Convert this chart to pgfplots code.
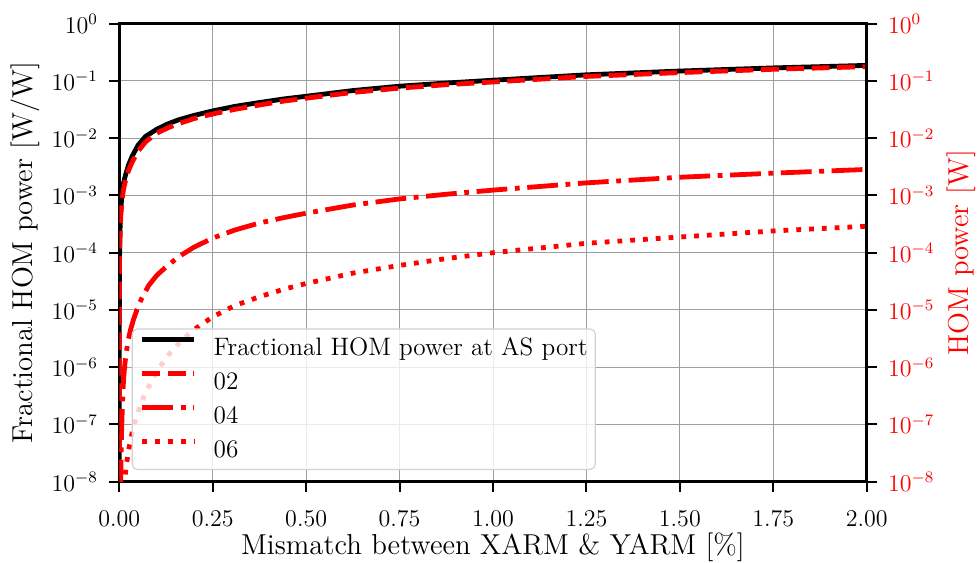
\documentclass[border=0pt]{standalone}
\usepackage{pgfplots}
\usepackage{pgfplotstable}
\pgfplotsset{compat=1.18}

% Fractional HOM power at the AS port
\pgfplotstableread{
x          y
0.0000001  1.4e-8
0.00001    1.4e-6
0.0002     2.8e-5
0.001      1.4e-4
0.003      4.5e-4
0.0072     1.1e-3
0.011      1.6e-3
0.016      2.2e-3
0.024      3.3e-3
0.034      4.8e-3
0.05       7.5e-3
0.07       1.07e-2
0.1        1.43e-2
0.13       1.78e-2
0.159      2.1e-2
0.2        2.5e-2
0.25       3.0e-2
0.31       3.6e-2
0.375      4.2e-2
0.44       4.85e-2
0.5        5.4e-2
0.625      6.8e-2
0.75       8.1e-2
0.875      9.2e-2
1.0        1.03e-1
1.25       1.28e-1
1.5        1.49e-1
1.75       1.69e-1
2.0        1.87e-1
}\totaldata

% mode 02
\pgfplotstableread{
x          y
0.0000001  1.2e-8
0.00001    1.2e-6
0.0002     2.4e-5
0.001      1.2e-4
0.004      4.5e-4
0.008      9.0e-4
0.011      1.25e-3
0.016      1.75e-3
0.024      2.65e-3
0.034      3.8e-3
0.05       5.9e-3
0.07       8.6e-3
0.1        1.22e-2
0.13       1.52e-2
0.159      1.8e-2
0.2        2.2e-2
0.25       2.65e-2
0.31       3.2e-2
0.375      3.8e-2
0.44       4.45e-2
0.5        5.0e-2
0.625      6.3e-2
0.75       7.5e-2
0.875      8.6e-2
1.0        9.6e-2
1.25       1.2e-1
1.5        1.4e-1
1.75       1.6e-1
2.0        1.78e-1
}\modeA

% mode 04
\pgfplotstableread{
x          y
0.0034     7e-9
0.0045     2.5e-8
0.0055     5.5e-8
0.0072     1.3e-7
0.0095     3.6e-7
0.0117     6.5e-7
0.015      1.15e-6
0.018      1.7e-6
0.024      3.0e-6
0.030      4.5e-6
0.038      6.8e-6
0.047      1.0e-5
0.06       1.6e-5
0.079      2.7e-5
0.1        4.0e-5
0.123      5.5e-5
0.159      8.5e-5
0.2        1.25e-4
0.25       1.8e-4
0.31       2.5e-4
0.375      3.3e-4
0.44       4.1e-4
0.5        4.9e-4
0.625      6.8e-4
0.75       8.7e-4
0.875      1.05e-3
1.0        1.24e-3
1.25       1.66e-3
1.5        2.08e-3
1.75       2.45e-3
2.0        2.85e-3
}\modeB

% mode 06
\pgfplotstableread{
x          y
0.013      8e-9
0.015      1.2e-8
0.02       2.2e-8
0.025      3.6e-8
0.035      7.5e-8
0.047      1.45e-7
0.065      3.0e-7
0.088      6.0e-7
0.11       1.05e-6
0.132      1.65e-6
0.159      2.6e-6
0.195      4.3e-6
0.25       7.6e-6
0.31       1.2e-5
0.375      1.7e-5
0.44       2.3e-5
0.5        2.9e-5
0.625      4.4e-5
0.75       6.0e-5
0.875      7.9e-5
1.0        1.0e-4
1.25       1.46e-4
1.5        1.88e-4
1.75       2.4e-4
2.0        2.9e-4
}\modeC

\begin{document}
\begin{tikzpicture}
\begin{axis}[
  scale only axis,
  width=373.7pt, height=229pt,
  xmin=0, xmax=2,
  ymode=log, ymin=1e-8, ymax=1,
  ytick={1e-8,1e-7,1e-6,1e-5,1e-4,1e-3,1e-2,1e-1,1},
  yminorticks=false,
  tick align=outside,
  major tick length=5pt,
  tick style={black, line width=1pt},
  axis line style={black, line width=1.25pt},
  xtick={0,0.25,0.5,0.75,1,1.25,1.5,1.75,2},
  xticklabels={0.00,0.25,0.50,0.75,1.00,1.25,1.50,1.75,2.00},
  xticklabel style={font=\fontsize{12}{14}\selectfont, inner sep=0pt, anchor=base, yshift=-17.4pt},
  yticklabel style={font=\fontsize{12}{14}\selectfont, anchor=east, inner xsep=5.5pt, inner ysep=0pt},
  xtick pos=left, ytick pos=left,
  grid=major,
  major grid style={black!38, line width=0.5pt},
  xlabel={Mismatch between XARM \& YARM [\%]},
  xlabel style={font=\fontsize{14.4}{17}\selectfont, at={(axis description cs:0.5,0)}, anchor=base, yshift=-36.2pt},
  ylabel={Fractional HOM power [W/W]},
  ylabel style={font=\fontsize{14.4}{17}\selectfont, at={(axis description cs:-0.1263,0.5)}, anchor=center},
  legend cell align=left,
  legend image code/.code={\draw[#1] (0pt,4.4pt) -- (25.7pt,4.4pt);},
  legend style={
    at={(axis description cs:0.0166,0.0255)}, anchor=south west,
    draw=black!18, line width=0.6pt, rounded corners=2.5pt,
    fill=white, fill opacity=0.8, text opacity=1,
    font=\fontsize{12.6}{15}\selectfont,
    inner xsep=3.8pt, inner ysep=1.1pt,
    row sep=0pt, column sep=8.8pt,
    nodes={inner sep=0pt, text height=12pt, text depth=5pt},
  },
]
\addplot[black, line width=2.4pt] table[x=x, y=y] {\totaldata};
\addlegendentry{Fractional HOM power at AS port\hspace{4pt}}
\addplot[red, line width=2.4pt, dash pattern=on 8.9pt off 3.8pt] table[x=x, y=y] {\modeA};
\addlegendentry{02}
\addplot[red, line width=2.4pt, dash pattern=on 15.4pt off 3.8pt on 2.4pt off 3.8pt] table[x=x, y=y] {\modeB};
\addlegendentry{04}
\addplot[red, line width=2.4pt, dash pattern=on 2.4pt off 4pt] table[x=x, y=y] {\modeC};
\addlegendentry{06}
\end{axis}

% right-hand axis: absolute HOM power
\begin{axis}[
  scale only axis,
  width=373.7pt, height=229pt,
  xmin=0, xmax=2,
  ymode=log, ymin=1e-8, ymax=1,
  ytick={1e-8,1e-7,1e-6,1e-5,1e-4,1e-3,1e-2,1e-1,1},
  yminorticks=false,
  tick align=outside,
  major tick length=5pt,
  tick style={black, line width=1pt},
  axis line style={black, line width=1.25pt},
  axis y line*=right,
  axis x line=none,
  yticklabel style={font=\fontsize{12}{14}\selectfont, anchor=west, inner xsep=5.5pt, inner ysep=0pt, text=red},
  ylabel={HOM power [W]},
  ylabel style={font=\fontsize{14.4}{17}\selectfont, at={(axis description cs:1.1263,0.5)}, anchor=center, text=red},
]
\addplot[draw=none] coordinates {(0,1e-4) (2,1e-4)};
\end{axis}

\pgfresetboundingbox
\path (-59.65pt,-40.15pt) rectangle (429.35pt,240.85pt);
\end{tikzpicture}
\end{document}
